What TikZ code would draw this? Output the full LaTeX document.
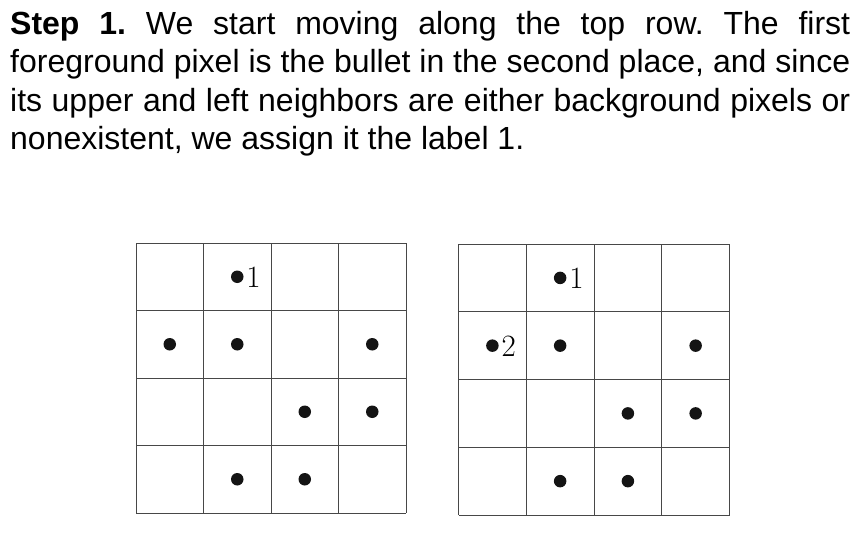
\documentclass[tikz,border=0pt]{standalone}
\usepackage{fontspec}
\newfontfamily\arialfont{Liberation Sans}
\begin{document}
\begin{tikzpicture}[x=1pt,y=-1pt,
  gridline/.style={draw=black!72,line width=0.85pt},
  pixdot/.style={circle,fill=black!92,inner sep=0pt,minimum size=12.5pt},
  lbl/.style={anchor=base west,inner sep=0pt,font=\fontsize{31}{31}\selectfont,text=black}]
\useasboundingbox (0,0) rectangle (861,533);
\node[anchor=base west,inner sep=0pt] (para) at (10,34) {\parbox[t]{840pt}{\arialfont\frenchspacing\fontsize{32}{38.6}\selectfont
\textbf{Step 1.} We start moving along the top row. The first\linebreak
foreground pixel is the bullet in the second place, and since\linebreak
its upper and left neighbors are either background pixels or\linebreak
nonexistent, we assign it the label 1.}};
% grid 1
\begin{scope}[shift={(136,243)},x=67.5pt,y=-67.5pt]
  \foreach \i in {0,...,4} {
    \draw[gridline] (\i,0) -- (\i,4);
    \draw[gridline] (0,\i) -- (4,\i);
  }
  \foreach \r/\c/\n in {1/2/a12,2/1/a21,2/2/a22,2/4/a24,3/3/a33,3/4/a34,4/2/a42,4/3/a43}
    \node[pixdot] (\n) at (\c-0.5,\r-0.5) {};
\end{scope}
\node[lbl] (la) at ([xshift=9pt,yshift=-11pt]a12.center) {1};
% grid 2
\begin{scope}[shift={(458.5,244)},x=67.75pt,y=-67.75pt]
  \foreach \i in {0,...,4} {
    \draw[gridline] (\i,0) -- (\i,4);
    \draw[gridline] (0,\i) -- (4,\i);
  }
  \foreach \r/\c/\n in {1/2/b12,2/1/b21,2/2/b22,2/4/b24,3/3/b33,3/4/b34,4/2/b42,4/3/b43}
    \node[pixdot] (\n) at (\c-0.5,\r-0.5) {};
\end{scope}
\node[lbl] (lb1) at ([xshift=9pt,yshift=-11pt]b12.center) {1};
\node[lbl] (lb2) at ([xshift=9pt,yshift=-11pt]b21.center) {2};
\end{tikzpicture}
\end{document}
